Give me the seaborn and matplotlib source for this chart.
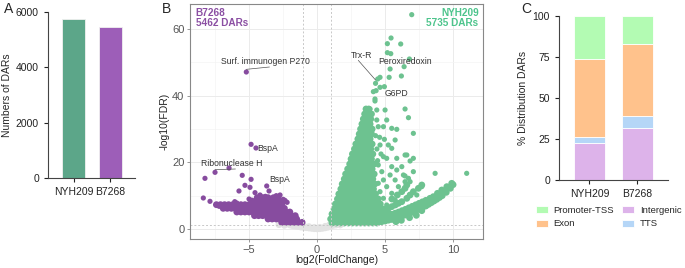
import numpy as np
import pandas as pd
import matplotlib
matplotlib.use('Agg')
import matplotlib.pyplot as plt
import seaborn as sns

sns.set_style('white')
plt.rcParams['font.family'] = ['Liberation Sans', 'DejaVu Sans']

# ---- panel A: number of DARs
strains = ['NYH209', 'B7268']
n_dars = [5735, 5462]
strain_colors = ['#4FB38B', '#A34FC7']

# ---- panel C: distribution of DARs (%)
intergenic = [22.7, 31.9]
tts = [3.3, 6.9]
exon = [48.0, 44.3]
promoter = [26.0, 16.9]
dist_colors = {'Promoter-TSS': '#B3FBB3', 'Exon': '#FFC28C',
               'Intergenic': '#DDB3EA', 'TTS': '#B5D6F7'}

# ---- panel B: volcano points (log2FC, -log10 FDR)
# dense rows: {y: [x, ...]}
nyh_core_rows = {
    36.0: [3.6, 3.8],
    34.5: [3.5, 3.8, 4.0],
    33.0: [3.4, 3.7, 3.95],
    31.5: [3.3, 3.6, 3.9],
    30.0: [3.2, 3.5, 3.8, 4.05],
    28.5: [3.1, 3.4, 3.7, 4.0],
    27.0: [3.0, 3.3, 3.6, 3.9],
    25.5: [2.85, 3.15, 3.45, 3.75, 4.05],
    24.0: [2.75, 3.05, 3.35, 3.65, 3.95],
    22.5: [2.6, 2.9, 3.2, 3.5, 3.8, 4.1],
    21.0: [2.5, 2.8, 3.1, 3.4, 3.7, 4.0],
    19.5: [2.4, 2.7, 3.0, 3.3, 3.6, 3.9, 4.2],
    18.0: [2.25, 2.55, 2.85, 3.15, 3.45, 3.75, 4.05],
    16.5: [2.1, 2.4, 2.7, 3.0, 3.3, 3.6, 3.9, 4.2],
    15.0: [2.0, 2.3, 2.6, 2.9, 3.2, 3.5, 3.8, 4.1],
    13.5: [1.85, 2.15, 2.45, 2.75, 3.05, 3.35, 3.65, 3.95, 4.25],
    12.0: [1.75, 2.05, 2.35, 2.65, 2.95, 3.25, 3.55, 3.85, 4.15],
    10.5: [1.6, 1.9, 2.2, 2.5, 2.8, 3.1, 3.4, 3.7, 4.0, 4.3],
    9.0: [1.5, 1.8, 2.1, 2.4, 2.7, 3.0, 3.3, 3.6, 3.9, 4.2, 4.5],
    7.5: [1.35, 1.65, 1.95, 2.25, 2.55, 2.85, 3.15, 3.45, 3.75, 4.05, 4.35, 4.65],
    6.0: [1.25, 1.55, 1.85, 2.15, 2.45, 2.75, 3.05, 3.35, 3.65, 3.95, 4.25, 4.55, 4.85],
    4.5: [1.1, 1.4, 1.7, 2.0, 2.3, 2.6, 2.9, 3.2, 3.5, 3.8, 4.1, 4.4, 4.7, 5.0, 5.3],
    3.0: [1.0, 1.3, 1.6, 1.9, 2.2, 2.5, 2.8, 3.1, 3.4, 3.7, 4.0, 4.3, 4.6, 4.9, 5.2, 5.5],
    1.8: [1.1, 1.4, 1.7, 2.0, 2.3, 2.6, 2.9, 3.2, 3.5, 3.8, 4.1, 4.4],
}
nyh_band = [(4.5, 2.0), (4.75, 2.2), (5.0, 2.4), (5.25, 2.65), (5.5, 2.9), (5.75, 3.2),
            (6.0, 3.5), (6.25, 3.85), (6.5, 4.2), (6.75, 4.6), (7.0, 5.0), (7.25, 5.45),
            (7.5, 5.9), (7.75, 6.4), (8.0, 6.9), (8.2, 7.4), (8.4, 7.9), (8.6, 8.4),
            (8.8, 8.9), (9.0, 9.45), (9.2, 10.0), (9.5, 11.0), (9.8, 12.2), (10.0, 13.3),
            (5.0, 3.8), (5.25, 4.1), (5.5, 4.4), (5.75, 4.75), (6.0, 5.1), (6.25, 5.5),
            (6.5, 5.9), (6.75, 6.35), (7.0, 6.8), (7.25, 7.25), (7.5, 7.7), (7.75, 8.15),
            (8.0, 8.6), (8.3, 9.2), (8.55, 9.7), (8.85, 10.7), (9.17, 11.7), (9.54, 12.7),
            (9.9, 13.7), (5.8, 2.2), (6.2, 2.6), (6.8, 3.4), (7.3, 4.1), (7.7, 5.5)]
nyh_streaks = [(5.0, 5.7), (5.25, 6.2), (5.49, 6.7), (5.75, 7.2), (5.98, 7.7), (6.23, 8.2),
               (6.6, 9.2), (6.84, 10.2), (7.08, 11.2), (7.45, 12.2), (7.7, 13.2),
               (5.5, 9.0), (5.9, 10.2), (6.23, 11.2), (6.47, 12.2), (6.6, 13.2)]
nyh_scatter = [(4.63, 25.2), (5.24, 25.2), (4.88, 21.7), (5.12, 21.2), (5.86, 21.2),
               (4.5, 19.2), (5.49, 18.7), (6.23, 18.7), (4.76, 17.2), (5.37, 16.2),
               (4.88, 14.7), (5.74, 14.7), (4.5, 13.7), (5.12, 12.7), (5.98, 12.7),
               (4.63, 11.2), (5.49, 10.7), (4.88, 9.2), (5.74, 8.7), (4.5, 7.7),
               (5.12, 7.2), (6.72, 15.2), (6.84, 14.2), (7.08, 17.2), (6.47, 14.2),
               (7.33, 10.2), (6.35, 16.2), (7.7, 12.7), (7.08, 5.2), (8.68, 16.7),
               (11.0, 16.7), (4.39, 32.7), (4.02, 29.2), (4.3, 28.0), (4.6, 27.5),
               (4.4, 24.0), (4.7, 22.5), (4.45, 20.5), (4.95, 26.9), (5.74, 26.7),
               (7.08, 28.7), (5.49, 24.2), (6.6, 22.2), (7.08, 21.2), (6.84, 20.4),
               (5.86, 17.7), (6.47, 15.9), (6.47, 22.2), (5.49, 30.2), (5.86, 29.9),
               (6.72, 33.4), (5.12, 32.7), (4.5, 30.7), (4.88, 30.7), (4.26, 38.4),
               (3.9, 36.0), (4.39, 35.7), (5.0, 35.7), (6.47, 36.0), (4.26, 39.0),
               (4.14, 41.2), (4.34, 41.5), (4.63, 42.5), (4.95, 42.7), (4.3, 43.7),
               (4.63, 45.5), (4.46, 45.0), (5.3, 45.5), (6.2, 45.9), (5.37, 48.0),
               (6.4, 48.7), (6.79, 51.0), (5.17, 52.9), (5.42, 52.6), (5.17, 55.6),
               (6.15, 55.5), (5.44, 57.3), (6.96, 64.3)]

b7_rows = {
    9.4: [-4.4, -4.0, -3.6, -3.2, -2.9],
    8.4: [-4.8, -4.5, -4.2, -3.9, -3.6, -3.3, -3.0, -2.7, -2.4],
    7.3: [-7.4, -7.1, -6.8, -6.5, -6.2, -5.9, -5.6, -5.3, -5.0, -4.7, -4.4, -4.1,
          -3.8, -3.5, -3.2, -2.9, -2.6],
    6.2: [-6.9, -6.6, -6.3, -6.0, -5.7, -5.4, -5.1, -4.8, -4.5, -4.2, -3.9, -3.6,
          -3.3, -3.0, -2.7, -2.4],
    5.1: [-5.9, -5.6, -5.3, -5.0, -4.7, -4.4, -4.1, -3.8, -3.5, -3.2, -2.9, -2.6,
          -2.3, -2.0],
    4.0: [-4.6, -4.3, -4.0, -3.7, -3.4, -3.1, -2.8, -2.5, -2.2, -1.9, -1.6],
    3.0: [-3.6, -3.3, -3.0, -2.7, -2.4, -2.1, -1.8, -1.5],
    2.0: [-2.6, -2.3, -2.0, -1.7, -1.4, -1.1],
}
b7_scatter = [(-5.2, 47.1), (-4.85, 25.4), (-4.49, 24.3), (-7.5, 17.0), (-6.47, 18.3),
              (-8.24, 15.2), (-8.36, 9.3), (-7.87, 8.3), (-5.5, 16.1), (-4.85, 14.9),
              (-5.3, 13.1), (-5.74, 11.4), (-4.93, 12.5), (-3.7, 12.9), (-4.56, 10.9),
              (-4.19, 10.2), (-3.53, 11.4), (-2.72, 10.2), (-6.05, 8.2), (-5.9, 7.8),
              (-4.43, 8.7), (-5.0, 9.0), (-3.0, 10.0), (-2.5, 8.9), (-3.8, 9.8),
              (-2.2, 8.0), (-7.2, 6.8)]

ns_pts = [(-2.0, 1.2), (-1.8, 1.0), (-1.6, 0.9), (-1.4, 0.75), (-1.2, 0.6), (-1.0, 0.5),
          (-0.8, 0.4), (-0.6, 0.3), (-0.4, 0.2), (-0.2, 0.1), (0.0, 0.05), (0.2, 0.1),
          (0.4, 0.2), (0.6, 0.35), (0.8, 0.55), (1.0, 0.8), (1.2, 1.1), (1.4, 1.2),
          (1.7, 1.2), (-1.8, 1.5), (-1.4, 1.2), (-1.0, 1.0), (-0.6, 0.7), (-0.2, 0.5),
          (0.2, 0.5), (0.6, 0.8), (0.9, 1.2), (-2.4, 1.1), (-2.8, 1.3)]

# text, text x, text y, point x, point y (None = no leader line)
labels_b = [('Surf. immunogen P270', -3.8, 50.2, -5.2, 47.1),
            ('BspA', -3.6, 24.2, None, None),
            ('Ribonuclease H', -6.3, 19.6, -7.5, 17.0),
            ('BspA', -2.72, 14.7, None, None),
            ('Trx-R', 3.23, 52.2, 4.3, 43.9),
            ('Peroxiredoxin', 6.5, 50.4, None, None),
            ('G6PD', 5.8, 40.8, None, None)]


def rows_to_pts(rows):
    return [(x, y) for y, xs in rows.items() for x in xs]


def frame(pts, grp, dense):
    return pd.DataFrame(pts, columns=['lfc', 'fdr']).assign(grp=grp, dense=dense)


volc = pd.concat([
    frame(ns_pts, 'NS', True),
    frame(rows_to_pts(b7_rows), 'B7268', True),
    frame(b7_scatter, 'B7268', False),
    frame(rows_to_pts(nyh_core_rows) + nyh_band + nyh_streaks, 'NYH209', True),
    frame(nyh_scatter, 'NYH209', False),
])
volc_pal = {'NS': '#E3E3E3', 'B7268': '#874C9F', 'NYH209': '#6DC290'}

fig = plt.figure(figsize=(6.85, 2.68), dpi=100)
W, H = 685, 268


def px_axes(l, t, r, b):
    return fig.add_axes([l / W, 1 - b / H, (r - l) / W, (b - t) / H])


tick_kw = dict(labelsize=7.5, length=3, width=0.8, colors='#222222')

# ---------------- A
axA = px_axes(48, 12, 135, 178)
dfA = pd.DataFrame({'strain': strains, 'n': n_dars})
sns.barplot(data=dfA, x='strain', y='n', hue='strain', palette=strain_colors,
            width=0.63, legend=False, ax=axA, edgecolor='#f0f0f0', linewidth=0.6)
axA.set_xlim(-0.7, 1.68)
axA.set_ylim(0, 6000)
axA.set_yticks([0, 2000, 4000, 6000])
axA.set_xlabel('')
axA.set_ylabel('Numbers of DARs', fontsize=7.5, labelpad=3)
sns.despine(ax=axA)
for s in ['left', 'bottom']:
    axA.spines[s].set_color('#444444')
    axA.spines[s].set_linewidth(0.8)
axA.tick_params(direction='out', bottom=True, left=True, **tick_kw)

# ---------------- B
axB = px_axes(190, 4, 483, 239)
axB.set_xlim(-9.34, 12.2)
axB.set_ylim(-3, 67.5)
axB.set_xticks([-5, 0, 5, 10])
axB.set_xticks([-7.5, -2.5, 2.5, 7.5], minor=True)
axB.set_yticks([0, 20, 40, 60])
axB.set_yticks([10, 30, 50], minor=True)
axB.grid(True, which='major', color='#ebebeb', linewidth=0.7)
axB.grid(True, which='minor', color='#f4f4f4', linewidth=0.5)
axB.set_axisbelow(True)
for v in [-1, 1]:
    axB.axvline(v, color='#c8c8c8', linestyle=(0, (2, 2)), linewidth=0.7)
axB.axhline(1.3, color='#c8c8c8', linestyle=(0, (2, 2)), linewidth=0.7)
sns.scatterplot(data=volc[volc['dense']], x='lfc', y='fdr', hue='grp', palette=volc_pal,
                s=24, linewidth=0, legend=False, ax=axB)
sns.scatterplot(data=volc[~volc['dense']], x='lfc', y='fdr', hue='grp', palette=volc_pal,
                s=14, linewidth=0, legend=False, ax=axB)
for txt, tx, ty, px, py in labels_b:
    axB.text(tx, ty, txt, fontsize=6.2, color='#333333', ha='center', va='center')
    if px is not None:
        axB.plot([tx + (0.3 if px < tx else -0.2), px], [ty - 1.6, py + 0.8],
                 color='#555555', linewidth=0.5)
axB.text(0.02, 0.985, 'B7268\n5462 DARs', transform=axB.transAxes, color='#8B4FA3',
         fontsize=7.2, fontweight='bold', ha='left', va='top', linespacing=1.05)
axB.text(0.985, 0.985, 'NYH209\n5735 DARs', transform=axB.transAxes, color='#4DC48C',
         fontsize=7.2, fontweight='bold', ha='right', va='top', linespacing=1.05)
axB.set_xlabel('log2(FoldChange)', fontsize=7.5, color='#222222', labelpad=0.5)
axB.set_ylabel('-log10(FDR)', fontsize=7.5, color='#222222', labelpad=2)
for s in axB.spines.values():
    s.set_color('#888888')
    s.set_linewidth(0.8)
axB.tick_params(which='major', direction='out', bottom=True, left=True, pad=1.5,
                labelsize=8, length=2.5, width=0.6, colors='#888888', labelcolor='#555555')
axB.tick_params(which='minor', length=0)

# ---------------- C
axC = px_axes(559, 16, 668, 180)
xpos = np.arange(len(strains))
bottom = np.zeros(len(strains))
for name, vals in [('Intergenic', intergenic), ('TTS', tts), ('Exon', exon),
                   ('Promoter-TSS', promoter)]:
    axC.bar(xpos, vals, bottom=bottom, width=0.65, color=dist_colors[name],
            edgecolor='white', linewidth=0.6, label=name)
    bottom = bottom + np.array(vals)
axC.set_xticks(xpos)
axC.set_xticklabels(strains)
axC.set_xlim(-0.64, 1.65)
axC.set_ylim(0, 100)
axC.set_yticks([0, 25, 50, 75, 100])
axC.set_ylabel('% Distribution DARs', fontsize=7.5, labelpad=3)
sns.despine(ax=axC)
for s in ['left', 'bottom']:
    axC.spines[s].set_color('#444444')
    axC.spines[s].set_linewidth(0.8)
axC.tick_params(direction='out', bottom=True, left=True, **tick_kw)

hd, lb = axC.get_legend_handles_labels()
order = ['Promoter-TSS', 'Exon', 'Intergenic', 'TTS']
hmap = dict(zip(lb, hd))
fig.legend([hmap[k] for k in order], order, loc='upper left',
           bbox_to_anchor=(532 / W, 1 - 202 / H), ncol=2, frameon=False,
           fontsize=6.8, handlelength=1.3, handleheight=0.8, columnspacing=0.8,
           labelspacing=0.5, handletextpad=0.6, borderaxespad=0)

# panel letters
fig.text(4 / W, 1 - 9 / H, 'A', fontsize=10, va='center')
fig.text(162 / W, 1 - 9 / H, 'B', fontsize=10, va='center')
fig.text(521 / W, 1 - 9 / H, 'C', fontsize=10, va='center')

fig.savefig('out.png', dpi=100)
